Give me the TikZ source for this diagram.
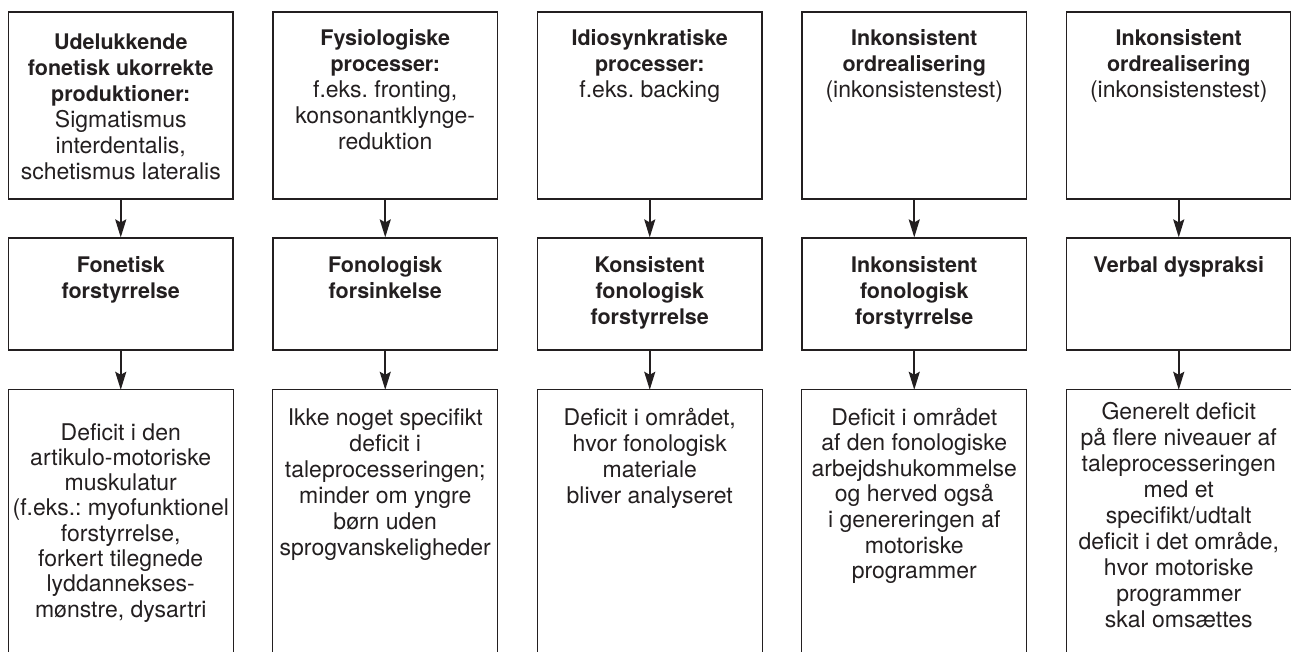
\documentclass[tikz,border=0pt]{standalone}
\usepackage{fontspec}
\setmainfont{TeX Gyre Heros}
\usetikzlibrary{arrows.meta}
\definecolor{ink}{HTML}{231F20}
\frenchspacing
\newcommand\bt[1]{{\fontsize{21.5}{25.8}\selectfont\bfseries #1}}
\newcommand\regtxt{\fontsize{23}{25.8}\selectfont\frenchspacing}
\newcommand\linesat[5]{%
  \foreach \ln [count=\k] in {#5} {
    \node[lbl] (#1-\k) at ({#2},{#3+#4*(\k-1)}) {\ln};
  }%
}
\tikzset{
  box/.style={draw=ink, line width=1.2pt, rectangle, minimum width=224.5pt, inner sep=0pt},
  openbox/.style={rectangle, minimum width=224.5pt, inner sep=0pt},
  lbl/.style={anchor=base, inner sep=0pt, text=ink, font=\regtxt},
  arr/.style={draw=ink, line width=2pt, -{Stealth[length=18pt,width=11pt,inset=3pt]}},
  side/.style={draw=ink, line width=1.2pt}
}
\begin{document}
\begin{tikzpicture}[x=1pt,y=-1pt]
\useasboundingbox (0,0) rectangle (1291,652);
\foreach \i in {1,...,5}{
  \pgfmathsetmacro{\cx}{120.75+264.5*(\i-1)}
  \node[box, minimum height=187pt] (t\i) at (\cx,105.5) {};
  \node[box, minimum height=112pt] (m\i) at (\cx,294) {};
  \node[openbox, minimum height=262pt] (b\i) at (\cx,521) {};
  \draw[side] (b\i.south west) -- (b\i.north west) -- (b\i.north east) -- (b\i.south east);
  \draw[arr] (t\i.south) -- (m\i.north);
  \draw[arr] (m\i.south) -- (b\i.north);
}
% top texts
\linesat{tt1}{120.75}{50}{26}{{\bt{Udelukkende}},{\bt{fonetisk ukorrekte}},{\bt{produktioner:}},{Sigmatismus},{interdentalis,},{schetismus lateralis}}
\linesat{tt2}{385.25}{46}{26}{{\bt{Fysiologiske}},{\bt{processer:}},{f.eks. fronting,},{konsonantklynge-},{reduktion}}
\linesat{tt3}{649.75}{46}{26}{{\bt{Idiosynkratiske}},{\bt{processer:}},{f.eks. backing}}
\linesat{tt4}{914.25}{46}{26}{{\bt{Inkonsistent}},{\bt{ordrealisering}},{(inkonsistenstest)}}
\linesat{tt5}{1178.75}{46}{26}{{\bt{Inkonsistent}},{\bt{ordrealisering}},{(inkonsistenstest)}}
% middle texts
\linesat{mt1}{120.75}{273}{26}{{\bt{Fonetisk}},{\bt{forstyrrelse}}}
\linesat{mt2}{385.25}{273}{26}{{\bt{Fonologisk}},{\bt{forsinkelse}}}
\linesat{mt3}{649.75}{273}{26}{{\bt{Konsistent}},{\bt{fonologisk}},{\bt{forstyrrelse}}}
\linesat{mt4}{914.25}{273}{26}{{\bt{Inkonsistent}},{\bt{fonologisk}},{\bt{forstyrrelse}}}
\linesat{mt5}{1178.75}{273}{26}{{\bt{Verbal dyspraksi}}}
% bottom texts
\linesat{bt1}{120.75}{440}{25.3}{{Deficit i den},{artikulo-motoriske},{muskulatur},{(f.eks.: myofunktionel},{forstyrrelse,},{forkert tilegnede},{lyddannekses-},{mønstre, dysartri}}
\linesat{bt2}{385.25}{425}{26}{{Ikke noget specifikt},{deficit i},{taleprocesseringen;},{minder om yngre},{børn uden},{sprogvanskeligheder}}
\linesat{bt3}{649.75}{425}{26}{{Deficit i området,},{hvor fonologisk},{materiale},{bliver analyseret}}
\linesat{bt4}{914.25}{425}{25.6}{{Deficit i området},{af den fonologiske},{arbejdshukommelse},{og herved også},{i genereringen af},{motoriske},{programmer}}
\linesat{bt5}{1178.75}{419}{26}{{Generelt deficit},{på flere niveauer af},{taleprocesseringen},{med et},{specifikt/udtalt},{deficit i det område,},{hvor motoriske},{programmer},{skal omsættes}}
\end{tikzpicture}
\end{document}
